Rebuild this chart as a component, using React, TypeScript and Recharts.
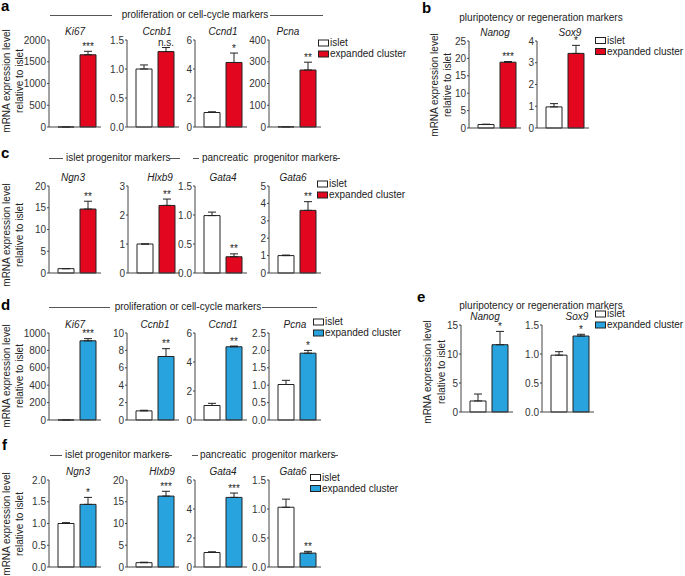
import React from 'react';
import { BarChart, Bar, XAxis, YAxis, ErrorBar, Cell, ReferenceDot } from 'recharts';

const FONT = '"Liberation Sans", Arial, Helvetica, sans-serif';
const RED = '#e3061f';
const BLUE = '#29a3dd';
const INK = '#222';
const AXIS = '#444';

const groups = ['islet', 'expanded cluster'];
const yLabel = ['mRNA expression level', 'relative to islet'];

// ---- panel a ----
const genesA = ['Ki67', 'Ccnb1', 'Ccnd1', 'Pcna'];
const isletA = [1, 1.0, 1.0, 1];
const isletErrA = [0, 0.07, 0.05, 0];
const clusterA = [1660, 1.3, 4.45, 262];
const clusterErrA = [80, 0.07, 0.65, 36];
const sigA = ['***', 'n.s.', '*', '**'];
const ticksA = [[0, 500, 1000, 1500, 2000], [0, 0.5, 1, 1.5], [0, 2, 4, 6], [0, 100, 200, 300, 400]];

// ---- panel b ----
const genesB = ['Nanog', 'Sox9'];
const isletB = [1.0, 0.97];
const isletErrB = [0.1, 0.15];
const clusterB = [18.9, 3.43];
const clusterErrB = [0.2, 0.37];
const sigB = ['***', '*'];
const ticksB = [[0, 5, 10, 15, 20, 25], [0, 1, 2, 3, 4]];

// ---- panel c ----
const genesC = ['Ngn3', 'Hlxb9', 'Gata4', 'Gata6'];
const isletC = [1, 1.0, 0.99, 1.0];
const isletErrC = [0, 0, 0.06, 0.03];
const clusterC = [14.7, 2.33, 0.28, 3.6];
const clusterErrC = [1.8, 0.22, 0.05, 0.5];
const sigC = ['**', '**', '**', '**'];
const ticksC = [[0, 5, 10, 15, 20], [0, 1, 2, 3], [0, 0.5, 1, 1.5], [0, 1, 2, 3, 4, 5]];

// ---- panel d ----
const genesD = ['Ki67', 'Ccnb1', 'Ccnd1', 'Pcna'];
const isletD = [1, 1.05, 1.0, 1.02];
const isletErrD = [0, 0.07, 0.15, 0.12];
const clusterD = [910, 7.3, 5.05, 1.92];
const clusterErrD = [25, 0.9, 0.05, 0.08];
const sigD = ['***', '**', '**', '*'];
const ticksD = [[0, 200, 400, 600, 800, 1000], [0, 2, 4, 6, 8, 10], [0, 2, 4, 6], [0, 0.5, 1, 1.5, 2, 2.5]];

// ---- panel e ----
const genesE = ['Nanog', 'Sox9'];
const isletE = [1.9, 0.98];
const isletErrE = [1.2, 0.06];
const clusterE = [11.6, 1.31];
const clusterErrE = [2.3, 0.03];
const sigE = ['*', '*'];
const ticksE = [[0, 5, 10, 15], [0, 0.5, 1, 1.5]];

// ---- panel f ----
const genesF = ['Ngn3', 'Hlxb9', 'Gata4', 'Gata6'];
const isletF = [1.0, 1.0, 1.0, 1.03];
const isletErrF = [0.02, 0.1, 0.05, 0.14];
const clusterF = [1.44, 16.3, 4.8, 0.24];
const clusterErrF = [0.16, 1.1, 0.3, 0.03];
const sigF = ['*', '***', '***', '**'];
const ticksF = [[0, 0.5, 1, 1.5, 2], [0, 5, 10, 15, 20], [0, 2, 4, 6], [0, 0.5, 1, 1.5]];

// ---- layout (positions only) ----
const panels = [
  { genes: genesA, islet: isletA, isletErr: isletErrA, cluster: clusterA, clusterErr: clusterErrA, sig: sigA, ticks: ticksA,
    color: RED, axisX: [49, 127, 195, 269], titleX: [75, 157, 223, 288], plotTop: 40 },
  { genes: genesB, islet: isletB, isletErr: isletErrB, cluster: clusterB, clusterErr: clusterErrB, sig: sigB, ticks: ticksB,
    color: RED, axisX: [469, 537], titleX: [495, 570], plotTop: 41 },
  { genes: genesC, islet: isletC, isletErr: isletErrC, cluster: clusterC, clusterErr: clusterErrC, sig: sigC, ticks: ticksC,
    color: RED, axisX: [49, 128, 195, 269], titleX: [73, 160, 223, 293], plotTop: 186 },
  { genes: genesD, islet: isletD, isletErr: isletErrD, cluster: clusterD, clusterErr: clusterErrD, sig: sigD, ticks: ticksD,
    color: BLUE, axisX: [49, 127, 195, 269], titleX: [75, 155, 223, 295], plotTop: 333 },
  { genes: genesE, islet: isletE, isletErr: isletErrE, cluster: clusterE, clusterErr: clusterErrE, sig: sigE, ticks: ticksE,
    color: BLUE, axisX: [461, 542], titleX: [485, 577], plotTop: 325 },
  { genes: genesF, islet: isletF, isletErr: isletErrF, cluster: clusterF, clusterErr: clusterErrF, sig: sigF, ticks: ticksF,
    color: BLUE, axisX: [49, 127, 195, 269], titleX: [78, 162, 223, 293], plotTop: 480 },
];

const YW = 30, PW = 52, MT = 16, PH = 87, XH = 6, MB = 2, MR = 4;

function Mini(p: any) {
  const data = [
    { name: groups[0], value: p.islet, err: [0, p.isletErr] },
    { name: groups[1], value: p.cluster, err: [0, p.clusterErr] },
  ];
  const max = p.ticks[p.ticks.length - 1];
  const dec = p.ticks.some((t: number) => !Number.isInteger(t)) ? 1 : 0;
  const sigShape = (sp: any) => (
    <text x={sp.cx} y={sp.cy - 1.5} textAnchor="middle" fontSize={10} fill="#222" stroke="none" fontFamily={FONT}>
      {p.sig}
    </text>
  );
  return (
    <div style={{ position: 'absolute', left: p.axisX - YW, top: p.plotTop - MT }}>
      <BarChart
        width={YW + PW + MR}
        height={MT + PH + XH + MB}
        data={data}
        margin={{ top: MT, right: MR, bottom: MB, left: 0 }}
        barSize={16}
        style={{ overflow: 'visible' }}
      >
        <XAxis dataKey="name" type="category" tick={false} tickSize={3} height={XH}
          padding={{ left: 6, right: 2 }} stroke={AXIS} axisLine={{ stroke: AXIS }} tickLine={{ stroke: AXIS }} />
        <YAxis type="number" domain={[0, max]} ticks={p.ticks} interval={0} width={YW} tickSize={2} tickMargin={1}
          tickFormatter={(v: number) => v.toFixed(dec)} stroke={AXIS}
          tick={{ fontSize: 10, fill: '#333', fontFamily: FONT }} />
        <Bar dataKey="value" isAnimationActive={false} stroke={INK} strokeWidth={1}>
          <Cell fill="#ffffff" />
          <Cell fill={p.color} />
          <ErrorBar dataKey="err" width={4} stroke={INK} strokeWidth={1} direction="y" isAnimationActive={false} />
        </Bar>
        <ReferenceDot x={groups[1]} y={p.cluster + p.clusterErr} r={1} shape={sigShape} />
      </BarChart>
    </div>
  );
}

const letters = [
  { t: 'a', x: 1, y: 11 }, { t: 'b', x: 422, y: 13 }, { t: 'c', x: 1, y: 158 },
  { t: 'd', x: 1, y: 310 }, { t: 'e', x: 417, y: 302 }, { t: 'f', x: 2, y: 450 },
];

const legends = [
  { x: 318, y: 42.5, color: RED }, { x: 595, y: 40, color: RED }, { x: 317, y: 183.5, color: RED },
  { x: 313, y: 321.5, color: BLUE }, { x: 595, y: 313.5, color: BLUE }, { x: 310, y: 477, color: BLUE },
];

const yLabels = [
  { x1: 9.5, x2: 23, cy: 81 }, { x1: 437.5, x2: 451, cy: 85 }, { x1: 9.5, x2: 23, cy: 235 },
  { x1: 9.5, x2: 23, cy: 376 }, { x1: 431, x2: 445, cy: 372 }, { x1: 9.5, x2: 23, cy: 524 },
];

const headerTexts = [
  { t: 'proliferation or cell-cycle markers', x: 195, y: 18, anchor: 'middle' },
  { t: 'pluripotency or regeneration markers', x: 541, y: 21, anchor: 'middle' },
  { t: 'islet progenitor markers', x: 66, y: 161, anchor: 'start' },
  { t: 'pancreatic  progenitor markers', x: 202, y: 161, anchor: 'start' },
  { t: 'proliferation or cell-cycle markers', x: 188, y: 310, anchor: 'middle' },
  { t: 'pluripotency or regeneration markers', x: 541, y: 308.5, anchor: 'middle' },
  { t: 'islet progenitor markers', x: 65, y: 458, anchor: 'start' },
  { t: 'pancreatic  progenitor markers', x: 200, y: 458, anchor: 'start' },
];

const headerLines = [
  [50, 112, 15], [270, 323, 15],
  [49, 63, 158], [168, 180, 158], [193, 199, 158], [333, 340, 158],
  [49, 110, 307], [262, 317, 307],
  [50, 62, 455], [165, 172, 455], [192, 198, 455], [332, 338, 455],
];

export default function App() {
  return (
    <div style={{ position: 'absolute', left: 0, top: 0, width: 685, height: 576, background: '#fff', fontFamily: FONT }}>
      {panels.map((pn, pi) =>
        pn.genes.map((g, i) => (
          <Mini key={pi + '-' + i} gene={g} islet={pn.islet[i]} isletErr={pn.isletErr[i]} cluster={pn.cluster[i]}
            clusterErr={pn.clusterErr[i]} sig={pn.sig[i]} ticks={pn.ticks[i]} color={pn.color}
            axisX={pn.axisX[i]} plotTop={pn.plotTop} />
        ))
      )}
      <svg width={685} height={576} style={{ position: 'absolute', left: 0, top: 0, pointerEvents: 'none' }}
        fontFamily={FONT}>
        {letters.map((l) => (
          <text key={l.t} x={l.x} y={l.y} fontSize={15} fontWeight="bold" fill="#000">{l.t}</text>
        ))}
        {panels.map((pn, pi) =>
          pn.genes.map((g, i) => (
            <text key={'t' + pi + i} x={pn.titleX[i]} y={pn.plotTop - 5} fontSize={10} fontStyle="italic"
              textAnchor="middle" fill="#222">{g}</text>
          ))
        )}
        {headerTexts.map((h, i) => (
          <text key={'h' + i} x={h.x} y={h.y} fontSize={10} textAnchor={h.anchor as any} fill="#222"
            style={{ whiteSpace: 'pre' }}>{h.t}</text>
        ))}
        {headerLines.map((l, i) => (
          <line key={'l' + i} x1={l[0]} x2={l[1]} y1={l[2] + 0.5} y2={l[2] + 0.5} stroke="#555" strokeWidth={1} />
        ))}
        {legends.map((lg, i) => (
          <g key={'lg' + i}>
            <rect x={lg.x + 0.5} y={lg.y - 2.5} width={10} height={6} fill="#fff" stroke={INK} strokeWidth={1} />
            <text x={lg.x + 12} y={lg.y + 3.5} fontSize={10} fill="#222">{groups[0]}</text>
            <rect x={lg.x + 0.5} y={lg.y + 8.5} width={10} height={6} fill={lg.color} stroke={INK} strokeWidth={1} />
            <text x={lg.x + 12} y={lg.y + 14.5} fontSize={10} fill="#222">{groups[1]}</text>
          </g>
        ))}
        {yLabels.map((yl, i) => (
          <g key={'y' + i}>
            <text x={yl.x1} y={yl.cy} transform={`rotate(-90 ${yl.x1} ${yl.cy})`} fontSize={10} textAnchor="middle" fill="#222">{yLabel[0]}</text>
            <text x={yl.x2} y={yl.cy} transform={`rotate(-90 ${yl.x2} ${yl.cy})`} fontSize={10} textAnchor="middle" fill="#222">{yLabel[1]}</text>
          </g>
        ))}
      </svg>
    </div>
  );
}
